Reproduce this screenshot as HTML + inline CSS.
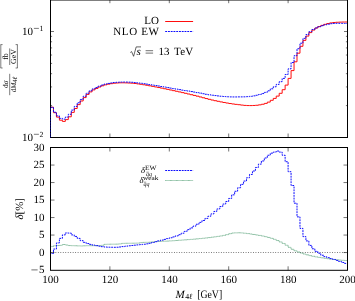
<!DOCTYPE html>
<html><head><meta charset="utf-8"><style>
html,body{margin:0;padding:0;background:#fff;}
body{width:355px;height:301px;overflow:hidden;}
svg{display:block;will-change:transform;}
text{font-family:"Liberation Serif",serif;font-size:11px;fill:#000;text-rendering:geometricPrecision;}
.it{font-style:italic;}
.s{font-size:7.8px;}
.t{font-size:6.5px;stroke:none;}
</style></head><body>
<svg width="355" height="301" viewBox="0 0 355 301">
<rect width="355" height="301" fill="#fff"/>
<!-- curves top -->
<path d="M50.50 107.20H53.47V112.70H56.44V117.10H59.41V120.20H62.38V121.40H65.35V119.60H68.32V116.80H71.29V112.40H74.26V108.50H77.23V104.60H80.20V101.00H83.17V97.60H86.14V94.40H89.11V91.90H92.08V89.90H95.05V88.44H98.02V86.99H100.99V85.80H103.96V84.84H106.93V84.13H109.90V83.66H112.87V83.23H115.84V82.99H118.81V82.82H121.78V82.81H124.75V82.89H127.72V83.02H130.69V83.20H133.66V83.51H136.63V83.90H139.60V84.31H142.57V84.77H145.54V85.27H148.51V85.82H151.48V86.38H154.45V86.96H157.42V87.54H160.39V88.13H163.36V88.74H166.33V89.37H169.30V90.01H172.27V90.65H175.24V91.28H178.21V91.93H181.18V92.61H184.15V93.30H187.12V94.00H190.09V94.71H193.06V95.43H196.03V96.17H199.00V96.96H201.97V97.76H204.94V98.55H207.91V99.32H210.88V100.04H213.85V100.69H216.82V101.31H219.79V101.91H222.76V102.48H225.73V103.02H228.70V103.52H231.67V103.97H234.64V104.36H237.61V104.70H240.58V105.08H243.55V105.40H246.52V105.56H249.49V105.59H252.46V105.48H255.43V105.27H258.40V104.85H261.37V104.25H264.34V103.40H267.31V102.10H270.28V100.30H273.25V98.40H276.22V96.10H279.19V93.30H282.16V89.70H285.13V85.10H288.10V78.40H291.07V70.60H294.04V61.80H297.01V53.20H299.98V46.30H302.95V40.40H305.92V36.10H308.89V32.60H311.86V30.07H314.83V28.08H317.80V26.60H320.77V25.36H323.74V24.33H326.71V23.53H329.68V22.90H332.65V22.51H335.62V22.28H338.59V22.14H341.56V22.04H344.53V22.00H347.50" fill="none" stroke="#ff0000" stroke-width="0.95"/>
<path d="M50.50 137.50V107.33H53.47V112.24H56.44V115.85H59.41V118.37H62.38V119.13H65.35V117.09H68.32V114.31H71.29V110.13H74.26V106.43H77.23V102.77H80.20V99.46H83.17V96.27H86.14V93.23H89.11V90.84H92.08V88.93H95.05V87.54H98.02V86.16H100.99V85.03H103.96V84.12H106.93V83.43H109.90V82.97H112.87V82.54H115.84V82.29H118.81V82.10H121.78V82.04H124.75V82.06H127.72V82.14H130.69V82.28H133.66V82.55H136.63V82.90H139.60V83.27H142.57V83.69H145.54V84.14H148.51V84.62H151.48V85.08H154.45V85.55H157.42V86.03H160.39V86.53H163.36V87.04H166.33V87.57H169.30V88.10H172.27V88.64H175.24V89.14H178.21V89.64H181.18V90.13H184.15V90.60H187.12V91.08H190.09V91.57H193.06V92.07H196.03V92.60H199.00V93.15H201.97V93.72H204.94V94.27H207.91V94.77H210.88V95.22H213.85V95.58H216.82V95.91H219.79V96.23H222.76V96.51H225.73V96.75H228.70V96.90H231.67V96.95H234.64V96.94H237.61V96.88H240.58V96.88H243.55V96.84H246.52V96.64H249.49V96.32H252.46V95.84H255.43V95.25H258.40V94.48H261.37V93.55H264.34V92.39H267.31V90.81H270.28V88.79H273.25V86.78H276.22V84.38H279.19V81.68H282.16V78.41H285.13V74.48H288.10V68.83H291.07V62.53H294.04V55.73H297.01V48.73H299.98V43.23H302.95V38.35H305.92V34.59H308.89V31.67H311.86V29.58H314.83V27.92H317.80V26.69H320.77V25.71H323.74V24.87H326.71V24.21H329.68V23.70H332.65V23.43H335.62V23.32H338.59V23.33H341.56V23.37H344.53V23.45H347.50" fill="none" stroke="#0000ff" stroke-width="0.95" stroke-dasharray="1.9 0.86"/>
<!-- curves bottom -->
<path d="M50.5 252.5H347.5" stroke="#000" stroke-width="0.6" stroke-dasharray="0.85 1.62" fill="none"/>
<path d="M50.50 246.46H53.47V245.76H56.44V245.55H59.41V245.38H62.38V244.50H65.35V245.03H68.32V245.55H71.29V245.68H74.26V245.76H77.23V245.89H80.20V245.97H83.17V245.80H86.14V245.71H89.11V245.70H92.08V245.69H95.05V245.69H98.02V245.67H100.99V245.32H103.96V244.33H106.93V244.24H109.90V244.20H112.87V244.18H115.84V244.13H118.81V243.89H121.78V243.38H124.75V243.29H127.72V243.25H130.69V243.23H133.66V243.18H136.63V243.10H139.60V242.66H142.57V242.40H145.54V242.33H148.51V242.23H151.48V241.87H154.45V241.60H157.42V241.44H160.39V241.32H163.36V241.21H166.33V241.08H169.30V240.91H172.27V240.71H175.24V240.49H178.21V240.26H181.18V240.04H184.15V239.83H187.12V239.61H190.09V239.39H193.06V239.14H196.03V238.86H199.00V238.57H201.97V238.26H204.94V237.93H207.91V237.58H210.88V237.21H213.85V236.82H216.82V236.40H219.79V235.93H222.76V235.40H225.73V234.62H228.70V233.69H231.67V233.03H234.64V232.85H237.61V232.78H240.58V232.91H243.55V233.23H246.52V233.58H249.49V234.01H252.46V234.47H255.43V234.94H258.40V235.43H261.37V236.00H264.34V236.65H267.31V237.44H270.28V238.34H273.25V239.36H276.22V240.56H279.19V241.95H282.16V243.48H285.13V245.26H288.10V247.35H291.07V249.31H294.04V250.77H297.01V251.98H299.98V253.03H302.95V253.97H305.92V254.83H308.89V255.61H311.86V256.30H314.83V256.89H317.80V257.39H320.77V257.84H323.74V258.28H326.71V258.73H329.68V259.16H332.65V259.52H335.62V259.82H338.59V260.09H341.56V260.32H344.53V260.50H347.50" fill="none" stroke="#2e8b57" stroke-width="0.6" stroke-dasharray="0.9 0.3"/>
<path d="M50.50 252.55V253.53H53.47V249.05H56.44V242.93H59.41V238.38H62.38V234.88H65.35V232.95H68.32V233.12H71.29V234.88H74.26V236.45H77.23V238.38H80.20V240.65H83.17V242.33H86.14V243.55H89.11V244.39H92.08V245.07H95.05V245.64H98.02V246.17H100.99V246.67H103.96V247.03H106.93V247.18H109.90V247.26H112.87V247.30H115.84V247.23H118.81V246.97H121.78V246.60H124.75V246.18H127.72V245.79H130.69V245.47H133.66V245.19H136.63V244.90H139.60V244.60H142.57V244.25H145.54V243.84H148.51V243.33H151.48V242.49H154.45V241.66H157.42V240.89H160.39V240.14H163.36V239.39H166.33V238.61H169.30V237.79H172.27V236.93H175.24V235.92H178.21V234.69H181.18V233.21H184.15V231.40H187.12V229.63H190.09V227.89H193.06V226.10H196.03V224.26H199.00V222.39H201.97V220.48H204.94V218.43H207.91V216.24H210.88V213.91H213.85V211.44H216.82V208.98H219.79V206.55H222.76V204.05H225.73V201.48H228.70V198.44H231.67V194.85H234.64V191.29H237.61V187.77H240.58V184.36H243.55V181.05H246.52V177.75H249.49V174.44H252.46V171.01H255.43V167.46H258.40V164.11H261.37V160.96H264.34V157.97H267.31V155.25H270.28V153.15H273.25V152.10H276.22V151.05H279.19V152.10H282.16V155.25H285.13V161.73H288.10V171.70H291.07V185.53H294.04V203.20H297.01V216.85H299.98V228.40H302.95V236.62H305.92V240.90H308.89V245.41H311.86V248.77H314.83V251.33H317.80V253.25H320.77V255.25H323.74V256.61H326.71V257.67H329.68V258.60H332.65V259.45H335.62V260.40H338.59V261.48H341.56V262.48H344.53V263.40H347.50" fill="none" stroke="#0000ff" stroke-width="0.95" stroke-dasharray="1.9 0.86"/>
<!-- frames -->
<rect x="50.5" y="0.0" width="297.00" height="137.50" fill="none" stroke="#000" stroke-width="1"/>
<rect x="50.5" y="147.5" width="297.00" height="122.80" fill="none" stroke="#000" stroke-width="1"/>
<path d="M50.5 137.5V107" stroke="#0000ff" stroke-width="1" stroke-dasharray="1.9 0.86" opacity="0.45"/>
<path d="M50.50 105.59L52.10 105.59M347.50 105.59L345.90 105.59M50.50 86.93L52.10 86.93M347.50 86.93L345.90 86.93M50.50 73.68L52.10 73.68M347.50 73.68L345.90 73.68M50.50 63.41L52.10 63.41M347.50 63.41L345.90 63.41M50.50 55.02L52.10 55.02M347.50 55.02L345.90 55.02M50.50 47.92L52.10 47.92M347.50 47.92L345.90 47.92M50.50 41.77L52.10 41.77M347.50 41.77L345.90 41.77M50.50 36.35L52.10 36.35M347.50 36.35L345.90 36.35M50.50 31.50L54.00 31.50M347.50 31.50L344.00 31.50M109.90 137.50L109.90 133.50M109.90 0.00L109.90 3.20M109.90 270.30L109.90 266.30M109.90 147.50L109.90 151.50M169.30 137.50L169.30 133.50M169.30 0.00L169.30 3.20M169.30 270.30L169.30 266.30M169.30 147.50L169.30 151.50M228.70 137.50L228.70 133.50M228.70 0.00L228.70 3.20M228.70 270.30L228.70 266.30M228.70 147.50L228.70 151.50M288.10 137.50L288.10 133.50M288.10 0.00L288.10 3.20M288.10 270.30L288.10 266.30M288.10 147.50L288.10 151.50M50.50 252.55L54.50 252.55M347.50 252.55L343.50 252.55M50.50 235.05L54.50 235.05M347.50 235.05L343.50 235.05M50.50 217.55L54.50 217.55M347.50 217.55L343.50 217.55M50.50 200.05L54.50 200.05M347.50 200.05L343.50 200.05M50.50 182.55L54.50 182.55M347.50 182.55L343.50 182.55M50.50 165.05L54.50 165.05M347.50 165.05L343.50 165.05" stroke="#000" stroke-width="0.55" fill="none"/>
<!-- legends top -->
<text x="158.9" y="24.4" text-anchor="end">LO</text>
<path d="M165.2 21.5H193.1" stroke="#ff0000" stroke-width="0.95"/>
<text x="113.3" y="34.7" textLength="45.6" lengthAdjust="spacing">NLO EW</text>
<path d="M165.2 31.5H193.1" fill="none" stroke="#0000ff" stroke-width="0.95" stroke-dasharray="1.9 0.86"/>
<g>
<path d="M130.3 52.5l1.3-0.9l2.0 4.7l2.6-9.4h4.8" fill="none" stroke="#111" stroke-width="0.65"/>
<text x="136.5" y="55.0" class="it">s</text>
<path d="M145.6 50.7H153.1M145.6 53.1H153.1" stroke="#111" stroke-width="0.6"/>
<text x="158.4" y="55.0">13</text>
<text x="174.0" y="55.0" textLength="19.2" lengthAdjust="spacing">TeV</text>
</g>
<!-- legends bottom -->
<text x="140.9" y="173.0" class="it" style="font-size:8.6px">δ</text><text x="144.9" y="170.2" class="t" textLength="11.5" lengthAdjust="spacingAndGlyphs">EW</text><text x="146.0" y="175.8" class="t it" style="font-size:6px">qq</text><path d="M146.4 172.2H148.8" stroke="#111" stroke-width="0.45"/>
<path d="M165.2 170.5H193.1" fill="none" stroke="#0000ff" stroke-width="0.95" stroke-dasharray="1.9 0.86"/>
<text x="139.4" y="183.0" class="it" style="font-size:8.6px">δ</text><text x="143.0" y="180.0" class="t" textLength="15.3" lengthAdjust="spacingAndGlyphs">weak</text><text x="143.4" y="185.8" class="t it" style="font-size:6px">qq</text><path d="M143.8 182.2H146.2" stroke="#111" stroke-width="0.45"/>
<path d="M165.2 180.5H193.1" fill="none" stroke="#2e8b57" stroke-width="0.6" stroke-dasharray="0.9 0.3"/>
<!-- tick labels -->
<text x="22.0" y="34.7">10</text><path d="M33.9 28.4H38.9" stroke="#111" stroke-width="0.55"/><text x="39.6" y="31.0" class="s">1</text>
<text x="22.0" y="140.6">10</text><path d="M33.9 134.3H38.9" stroke="#111" stroke-width="0.55"/><text x="39.6" y="136.9" class="s">2</text>
<path d="M31.4 269.90H37.6" stroke="#111" stroke-width="0.6"/><text x="44.5" y="273.2" text-anchor="end">5</text><text x="44.5" y="255.7" text-anchor="end">0</text><text x="44.5" y="238.2" text-anchor="end">5</text><text x="44.5" y="220.7" text-anchor="end">10</text><text x="44.5" y="203.2" text-anchor="end">15</text><text x="44.5" y="185.7" text-anchor="end">20</text><text x="44.5" y="168.2" text-anchor="end">25</text><text x="44.5" y="150.7" text-anchor="end">30</text>
<text x="50.6" y="283.1" text-anchor="middle">100</text><text x="110.0" y="283.1" text-anchor="middle">120</text><text x="169.4" y="283.1" text-anchor="middle">140</text><text x="228.8" y="283.1" text-anchor="middle">160</text><text x="288.2" y="283.1" text-anchor="middle">180</text><text x="347.6" y="283.1" text-anchor="middle">200</text>
<!-- x label -->
<text x="175.6" y="297.5" class="it">M</text><text x="185.2" y="299.3" class="s">4<tspan class="it">ℓ</tspan></text><text x="197.2" y="297.6" textLength="25" lengthAdjust="spacingAndGlyphs" style="font-size:11.4px">[GeV]</text>
<!-- y label bottom -->
<text transform="translate(22.9,208.8) rotate(-90)" text-anchor="middle"><tspan class="it">δ</tspan>[%]</text>
<!-- y label top -->
<g>
 <text transform="translate(7.9,84.3) rotate(-90)" text-anchor="middle" class="s" style="font-size:7.3px">d<tspan class="it">σ</tspan></text>
 <path d="M9.7 73.8V95.2" stroke="#111" stroke-width="0.55"/>
 <text transform="translate(16.0,84.5) rotate(-90)" text-anchor="middle" class="s" style="font-size:7.2px">d<tspan class="it">M</tspan><tspan class="t" dy="1">4<tspan class="it">ℓ</tspan></tspan></text>
 <text transform="translate(7.9,56.6) rotate(-90)" text-anchor="middle" class="s">fb</text>
 <path d="M9.7 48.4V65" stroke="#111" stroke-width="0.55"/>
 <text transform="translate(16.0,56.6) rotate(-90)" text-anchor="middle" class="s">GeV</text>
 <path d="M2.6 68H0.6M0.8 68V44.6M0.6 44.6H2.6" stroke="#111" stroke-width="0.55" fill="none"/>
 <path d="M15.6 68H17.6M17.4 68V44.6M17.6 44.6H15.6" stroke="#111" stroke-width="0.55" fill="none"/>
</g>
</svg>
</body></html>
